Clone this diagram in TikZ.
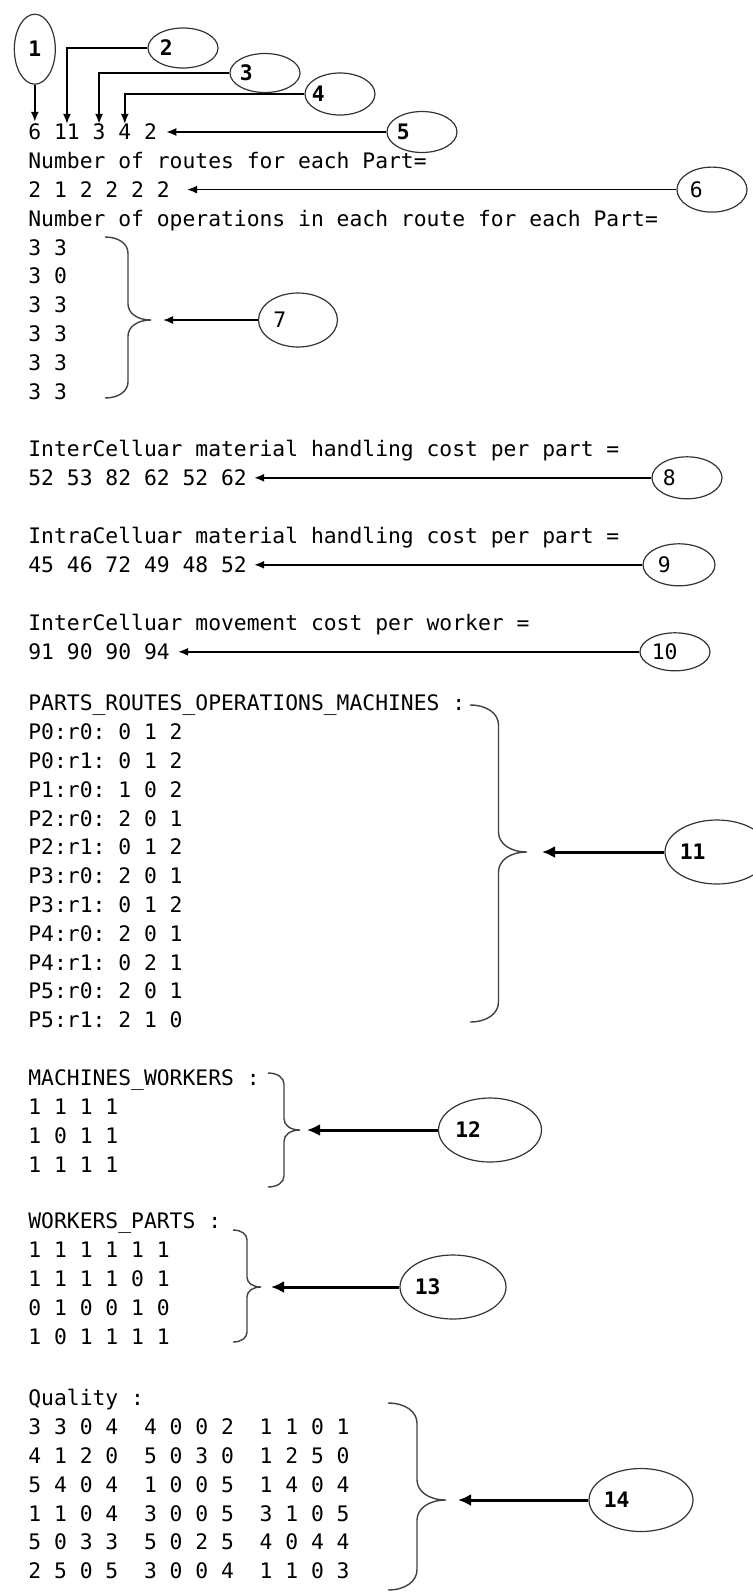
\documentclass[tikz,border=0pt]{standalone}
\usepackage{fontspec}
\setmainfont{DejaVu Sans Mono}
\frenchspacing
\usetikzlibrary{shapes.geometric,positioning,arrows.meta}

\newcommand{\codesize}{\fontsize{10.67pt}{13pt}\selectfont}
\newcommand{\curlybr}[6]{%
  \coordinate (#1) at (#2+2*#6,#5);
  \draw[brc] (#2,#3) .. controls (#2+0.6*#6,#3) and (#2+#6,#3+0.3*#6) .. (#2+#6,#3+0.7*#6)
    -- (#2+#6,#5-0.7*#6) .. controls (#2+#6,#5-0.3*#6) and (#2+1.4*#6,#5) .. (#1)
    .. controls (#2+1.4*#6,#5) and (#2+#6,#5+0.3*#6) .. (#2+#6,#5+0.7*#6)
    -- (#2+#6,#4-0.7*#6) .. controls (#2+#6,#4-0.3*#6) and (#2+0.6*#6,#4) .. (#2,#4);}

\begin{document}
\begin{tikzpicture}[x=0.5pt, y=-0.5pt, node distance=14.4pt, font=\codesize, >={Latex[length=5pt,width=4pt]}]
    \tikzstyle{txt} = [anchor=west, inner sep=0pt, text height=7.8pt, text depth=0pt]
    \tikzset{nextrow/.style={below=of #1.west, anchor=west, inner sep=0pt, text height=7.8pt, text depth=0pt}}
    \tikzstyle{callout} = [ellipse, draw=black!80, line width=0.6pt, inner sep=0pt]
    \tikzstyle{tag} = [inner sep=0pt, text height=7.8pt, text depth=0pt, font=\codesize\bfseries]
    \tikzstyle{plaintag} = [inner sep=0pt, text height=7.8pt, text depth=0pt]
    \tikzstyle{pointer} = [->, line width=0.8pt]
    \tikzstyle{bigpointer} = [-{Latex[length=6.5pt,width=6pt]}, line width=1.5pt]
    \tikzstyle{brc} = [line width=0.7pt, black!75]

    \useasboundingbox (0,0) rectangle (752,1592);

    \node[txt] (v1) at (28,132) {6};
    \node[txt] (v2) at (53.7,132) {11};
    \node[txt] (v3) at (92.25,132) {3};
    \node[txt] (v4) at (117.95,132) {4};
    \node[txt] (v5) at (143.65,132) {2};
    \node[nextrow=v1] (nroutes) {Number of routes for each Part=};
    \node[nextrow=nroutes] (routes) {2 1 2 2 2 2};
    \node[nextrow=routes] (nops) {Number of operations in each route for each Part=};
    \node[nextrow=nops] (ops1) {3 3};
    \node[nextrow=ops1] (ops2) {3 0};
    \node[nextrow=ops2] (ops3) {3 3};
    \node[nextrow=ops3] (ops4) {3 3};
    \node[nextrow=ops4] (ops5) {3 3};
    \node[nextrow=ops5] (ops6) {3 3};

    \node[txt] (inter) at (28,449) {InterCelluar material handling cost per part =};
    \node[nextrow=inter] (intercost) {52 53 82 62 52 62};
    \node[txt] (intra) at (28,536) {IntraCelluar material handling cost per part =};
    \node[nextrow=intra] (intracost) {45 46 72 49 48 52};
    \node[txt] (move) at (28,623) {InterCelluar movement cost per worker =};
    \node[nextrow=move] (movecost) {91 90 90 94};

    \node[txt] (prom) at (28,703) {PARTS\_ROUTES\_OPERATIONS\_MACHINES :};
    \node[nextrow=prom] (p1) {P0:r0: 0 1 2};
    \node[nextrow=p1] (p2) {P0:r1: 0 1 2};
    \node[nextrow=p2] (p3) {P1:r0: 1 0 2};
    \node[nextrow=p3] (p4) {P2:r0: 2 0 1};
    \node[nextrow=p4] (p5) {P2:r1: 0 1 2};
    \node[nextrow=p5] (p6) {P3:r0: 2 0 1};
    \node[nextrow=p6] (p7) {P3:r1: 0 1 2};
    \node[nextrow=p7] (p8) {P4:r0: 2 0 1};
    \node[nextrow=p8] (p9) {P4:r1: 0 2 1};
    \node[nextrow=p9] (p10) {P5:r0: 2 0 1};
    \node[nextrow=p10] (p11) {P5:r1: 2 1 0};

    \node[txt] (mw) at (28,1078) {MACHINES\_WORKERS :};
    \node[nextrow=mw] (mw1) {1 1 1 1};
    \node[nextrow=mw1] (mw2) {1 0 1 1};
    \node[nextrow=mw2] (mw3) {1 1 1 1};

    \node[txt] (wp) at (28,1221) {WORKERS\_PARTS :};
    \node[nextrow=wp] (wp1) {1 1 1 1 1 1};
    \node[nextrow=wp1] (wp2) {1 1 1 1 0 1};
    \node[nextrow=wp2] (wp3) {0 1 0 0 1 0};
    \node[nextrow=wp3] (wp4) {1 0 1 1 1 1};

    \node[txt] (qual) at (28,1398) {Quality :};
    \node[nextrow=qual] (q1) {3 3 0 4\ \ 4 0 0 2\ \ 1 1 0 1};
    \node[nextrow=q1] (q2) {4 1 2 0\ \ 5 0 3 0\ \ 1 2 5 0};
    \node[nextrow=q2] (q3) {5 4 0 4\ \ 1 0 0 5\ \ 1 4 0 4};
    \node[nextrow=q3] (q4) {1 1 0 4\ \ 3 0 0 5\ \ 3 1 0 5};
    \node[nextrow=q4] (q5) {5 0 3 3\ \ 5 0 2 5\ \ 4 0 4 4};
    \node[nextrow=q5] (q6) {2 5 0 5\ \ 3 0 0 4\ \ 1 1 0 3};

    \curlybr{t7}{105}{237}{398}{320}{23}
    \curlybr{t11}{470}{705}{1022}{852}{28.5}
    \curlybr{t12}{268}{1073}{1187}{1130}{16}
    \curlybr{t13}{233}{1230}{1342}{1287}{14}
    \curlybr{t14}{388}{1403}{1590}{1500}{29}

    \node[callout, minimum width=20.5pt, minimum height=35pt, above=19.5pt of v1] (c1) {\bfseries 1};
    \node[callout, minimum width=35pt, minimum height=20pt] (c2) at (183,48) {};
    \node[callout, minimum width=35pt, minimum height=19.5pt] (c3) at (265,73) {};
    \node[callout, minimum width=35pt, minimum height=21pt] (c4) at (340,94) {};
    \node[callout, minimum width=35pt, minimum height=20.5pt] (c5) at (422,0 |- v5) {};
    \node[callout, minimum width=35pt, minimum height=22.5pt] (c6) at (712,0 |- routes) {};
    \node[callout, minimum width=39.5pt, minimum height=27pt] (c7) at (298,0 |- t7) {};
    \node[callout, minimum width=35pt, minimum height=21pt] (c8) at (687,0 |- intercost) {};
    \node[callout, minimum width=36pt, minimum height=21pt] (c9) at (679,0 |- intracost) {};
    \node[callout, minimum width=35pt, minimum height=19pt] (c10) at (675,0 |- movecost) {};
    \node[callout, minimum width=52pt, minimum height=32pt] (c11) at (717,0 |- t11) {};
    \node[callout, minimum width=51.5pt, minimum height=32pt] (c12) at (490,0 |- t12) {};
    \node[callout, minimum width=53pt, minimum height=32pt] (c13) at (453,0 |- t13) {};
    \node[callout, minimum width=52pt, minimum height=31.5pt] (c14) at (641,0 |- t14) {};

    \node[tag, right=6pt of c2.west] (l2) {2};
    \node[tag, right=5pt of c3.west] (l3) {3};
    \node[tag, right=3.5pt of c4.west] (l4) {4};
    \node[tag, right=5pt of c5.west] (l5) {5};
    \node[plaintag, right=6.5pt of c6.west] (l6) {6};
    \node[plaintag, right=7.5pt of c7.west] (l7) {7};
    \node[plaintag, right=5.5pt of c8.west] (l8) {8};
    \node[plaintag, right=7.5pt of c9.west] (l9) {9};
    \node[plaintag, right=6pt of c10.west] (l10) {10};
    \node[tag, right=7.5pt of c11.west] (l11) {11};
    \node[tag, right=8.5pt of c12.west] (l12) {12};
    \node[tag, right=7.5pt of c13.west] (l13) {13};
    \node[tag, right=7.5pt of c14.west] (l14) {14};

    \draw[pointer, shorten >=1pt] (c1) -- (v1);
    \draw[pointer] (c2.west) -| (v2.north);
    \draw[pointer] (c3.west) -| (v3.north);
    \draw[pointer] (c4.west) -| (v4.north);
    \draw[pointer, shorten >=4.5pt] (c5) -- (v5);
    \draw[pointer, shorten >=8.5pt] (c6) -- (routes);
    \draw[pointer, shorten >=6pt] (c7) -- (t7);
    \draw[pointer, shorten >=3.5pt] (c8) -- (intercost);
    \draw[pointer, shorten >=3.5pt] (c9) -- (intracost);
    \draw[pointer, shorten >=4pt] (c10) -- (movecost);
    \draw[bigpointer, shorten >=7.5pt] (c11) -- (t11);
    \draw[bigpointer, shorten >=3.5pt] (c12) -- (t12);
    \draw[bigpointer, shorten >=5pt] (c13) -- (t13);
    \draw[bigpointer, shorten >=6pt] (c14) -- (t14);
\end{tikzpicture}
\end{document}
